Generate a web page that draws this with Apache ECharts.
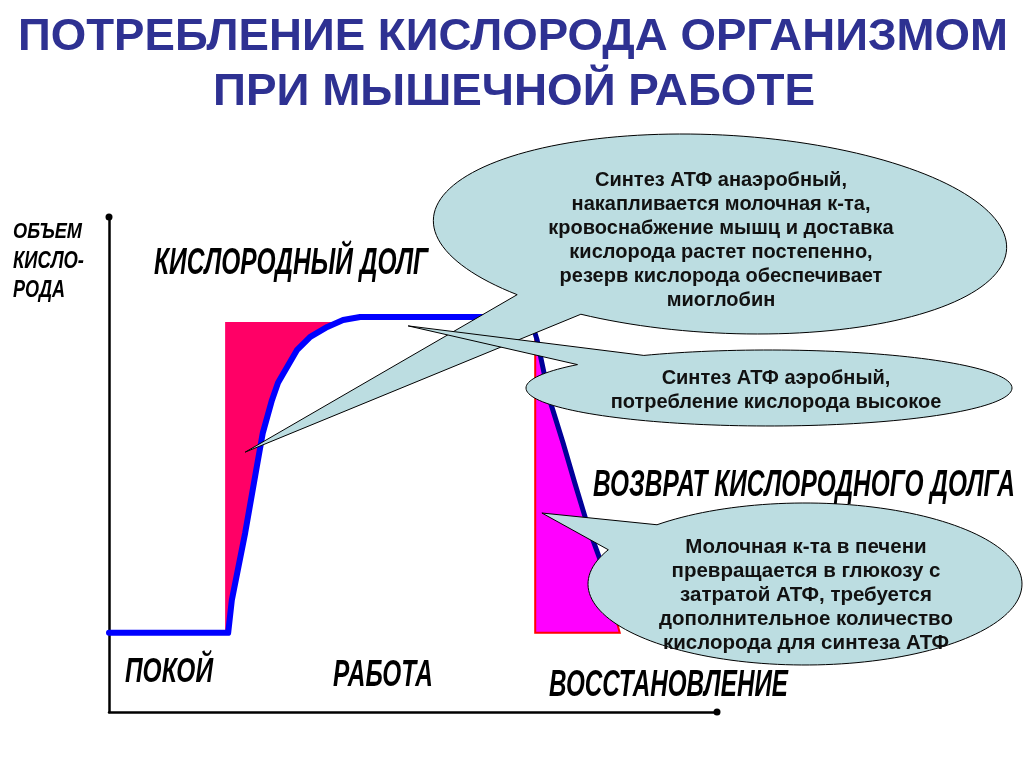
<!DOCTYPE html>
<html>
<head>
<meta charset="utf-8">
<title>Потребление кислорода организмом при мышечной работе</title>
<script src="https://cdn.jsdelivr.net/npm/echarts@6.0.0/dist/echarts.min.js"></script>
<style>
  html, body { margin: 0; padding: 0; background: #fff; }
  #main { width: 1024px; height: 767px; }
</style>
</head>
<body>
<div id="main"></div>
<script>
// x: time (0..100), y: oxygen volume (0..100)
var workCurve = [[0, 16], [19.6, 16], [20.2, 22.6], [22.4, 36.2], [24.3, 49.5], [25.3, 56.4],
  [26.8, 63.0], [27.8, 66.5], [29.3, 69.7], [30.9, 73.1], [33.1, 75.8], [35.9, 77.8],
  [38.5, 79.2], [41.3, 79.8], [69.0, 79.8]];
var recoveryCurve = [[69.0, 79.8], [69.9, 77.2], [70.4, 75.2], [72.5, 63.0], [74.7, 54.3],
  [76.6, 46.3], [78.8, 37.4], [80.8, 30.7], [83.8, 18.0]];
var debtArea = [[19.1, 16], [19.1, 78.8], [38.5, 78.8], [35.9, 77.8], [33.1, 75.8], [30.9, 73.1],
  [29.3, 69.7], [27.8, 66.5], [26.8, 63.0], [25.3, 56.4], [24.3, 49.5], [22.4, 36.2],
  [20.2, 22.6], [19.6, 16]];
var repayArea = [[70.1, 75.2], [70.4, 75.2], [72.5, 63.0], [74.7, 54.3], [76.6, 46.3],
  [78.8, 37.4], [80.8, 30.7], [84.0, 16.0], [70.1, 16.0]];

var titleLines = ['ПОТРЕБЛЕНИЕ КИСЛОРОДА ОРГАНИЗМОМ', 'ПРИ МЫШЕЧНОЙ РАБОТЕ'];
var yLabel = ['ОБЪЕМ', 'КИСЛО-', 'РОДА'];
var phaseLabels = ['ПОКОЙ', 'РАБОТА', 'ВОССТАНОВЛЕНИЕ'];
var areaLabels = ['КИСЛОРОДНЫЙ ДОЛГ', 'ВОЗВРАТ КИСЛОРОДНОГО ДОЛГА'];
var notes = [
  'Синтез АТФ анаэробный,\nнакапливается молочная к-та,\nкровоснабжение мышц и доставка\nкислорода растет постепенно,\nрезерв кислорода обеспечивает\nмиоглобин',
  'Синтез АТФ аэробный,\nпотребление кислорода высокое',
  'Молочная к-та в печени\nпревращается в глюкозу с\nзатратой АТФ, требуется\nдополнительное количество\nкислорода для синтеза АТФ'
];
// where each callout points to (data coords)
var noteTips = [[22.4, 52.5], [49.2, 78.0], [71.2, 40.2]];

var FONT = "'Liberation Sans', Arial, sans-serif";

var chartDom = document.getElementById('main');
var myChart = echarts.init(chartDom);

function areaSeries(points, fill, stroke) {
  return {
    type: 'custom',
    silent: true,
    data: points,
    z: 1,
    renderItem: function (params, api) {
      if (params.dataIndex !== 0) return null;
      return {
        type: 'polygon',
        shape: { points: points.map(function (p) { return api.coord(p); }) },
        style: { fill: fill, stroke: stroke || null, lineWidth: stroke ? 2 : 0 }
      };
    }
  };
}

var option = {
  animation: false,
  grid: { left: 109, right: 307, top: 217, bottom: 55 },
  xAxis: {
    type: 'value', min: 0, max: 100,
    axisLine: { lineStyle: { color: '#000', width: 2.5 }, symbol: ['none', 'circle'], symbolSize: [7, 7] },
    axisTick: { show: false }, axisLabel: { show: false }, splitLine: { show: false }
  },
  yAxis: {
    type: 'value', min: 0, max: 100,
    axisLine: { show: true, lineStyle: { color: '#000', width: 2.5 }, symbol: ['none', 'circle'], symbolSize: [7, 7] },
    axisTick: { show: false }, axisLabel: { show: false }, splitLine: { show: false }
  },
  series: [
    areaSeries(debtArea, '#FF0066'),
    areaSeries(repayArea, '#FF00FF', '#FF0000'),
    {
      type: 'line', data: workCurve, symbol: 'none', z: 3,
      lineStyle: { color: '#0000FF', width: 6, cap: 'round', join: 'round' }
    },
    {
      type: 'line', data: recoveryCurve, symbol: 'none', z: 3,
      lineStyle: { color: '#000099', width: 5, cap: 'butt', join: 'round' }
    }
  ]
};

option && myChart.setOption(option);

// ---- annotations ----
var measureCtx = document.createElement('canvas').getContext('2d');

// text squeezed into a box: left, cap top, cap bottom, right
function fitLabel(text, left, top, bottom, right, color, italic) {
  var size = (bottom - top) / 0.716;
  measureCtx.font = (italic ? 'italic ' : '') + 'bold ' + size + 'px ' + FONT;
  var w = measureCtx.measureText(text).width;
  return {
    type: 'text', x: left, y: (top + bottom) / 2, scaleX: (right - left) / w, z: 120,
    style: {
      text: text, fontSize: size, fontWeight: 'bold', fontStyle: italic ? 'italic' : 'normal',
      fontFamily: FONT, fill: color, align: 'left', verticalAlign: 'middle'
    }
  };
}

function calloutPoints(b, tip) {
  var rad = Math.PI / 180, phi = (b.rot || 0) * rad;
  function at(deg) {
    var c = Math.cos(deg * rad) * b.rx, s = Math.sin(deg * rad) * b.ry;
    return [b.cx + c * Math.cos(phi) - s * Math.sin(phi), b.cy + c * Math.sin(phi) + s * Math.cos(phi)];
  }
  var pts = [at(b.a1), tip, at(b.a2)];
  var d = (((b.a1 - b.a2) % 360) + 360) % 360;
  if (d < 180) d -= 360;
  for (var i = 1; i < 160; i++) pts.push(at(b.a2 + d * i / 160));
  return pts;
}

var bubbles = [
  { cx: 720, cy: 234, rx: 287, ry: 99, rot: 3, a1: 134, a2: 118, tx: 721, ty: 240, fs: 20 },
  { cx: 769, cy: 388, rx: 243, ry: 38, rot: 0, a1: 218, a2: 239, tx: 776, ty: 390, fs: 20 },
  { cx: 805, cy: 584, rx: 217, ry: 81, rot: 0, a1: 227, a2: 205, tx: 806, ty: 595, fs: 20.5 }
];

var elements = [];
titleLines.forEach(function (t, i) {
  var box = i === 0 ? [18, 22, 54, 1008] : [213, 77, 109, 815];
  elements.push(fitLabel(t, box[0], box[1], box[2], box[3], '#2E3192', false));
});
var yBoxes = [[13, 224, 240, 82], [13, 253, 270, 84], [13, 282, 299, 65]];
yLabel.forEach(function (t, i) {
  var b = yBoxes[i];
  elements.push(fitLabel(t, b[0], b[1], b[2], b[3], '#000', true));
});
var phaseBoxes = [[125, 660, 685, 213], [333, 663, 689, 433], [549, 673, 699, 788]];
phaseLabels.forEach(function (t, i) {
  var b = phaseBoxes[i];
  elements.push(fitLabel(t, b[0], b[1], b[2], b[3], '#000', true));
});
var areaBoxes = [[154, 250, 277, 428], [593, 473, 499, 1015]];
areaLabels.forEach(function (t, i) {
  var b = areaBoxes[i];
  elements.push(fitLabel(t, b[0], b[1], b[2], b[3], '#000', true));
});

bubbles.forEach(function (b, i) {
  var tip = myChart.convertToPixel({ gridIndex: 0 }, noteTips[i]);
  elements.push({
    type: 'polygon', z: 100 + i * 2,
    shape: { points: calloutPoints(b, tip) },
    style: { fill: '#BCDDE1', stroke: '#000', lineWidth: 1 }
  });
  elements.push({
    type: 'text', x: b.tx, y: b.ty, z: 101 + i * 2,
    style: {
      text: notes[i], fontSize: b.fs, fontWeight: 'bold', fontFamily: FONT, lineHeight: 24,
      fill: '#111', align: 'center', verticalAlign: 'middle'
    }
  });
});

myChart.setOption({ graphic: { elements: elements } });
</script>
</body>
</html>
